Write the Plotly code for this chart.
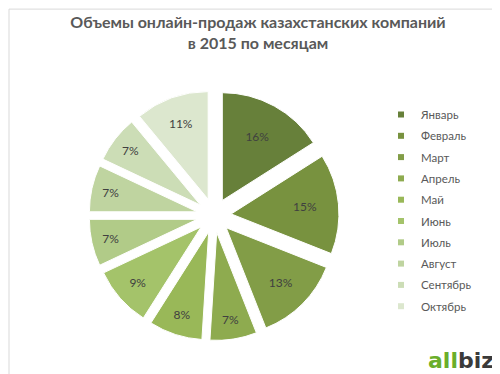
import plotly.graph_objects as go

months = ["Январь", "Февраль", "Март", "Апрель", "Май", "Июнь",
          "Июль", "Август", "Сентябрь", "Октябрь"]
shares = [16, 15, 13, 7, 8, 9, 7, 7, 7, 11]
colors = ["#67803A", "#78923F", "#829D47", "#8EAB4F", "#99B858", "#A4C36A",
          "#B1CB88", "#BFD4A0", "#CCDDB6", "#DCE7CE"]

fig = go.Figure()
fig.add_trace(go.Pie(
    labels=months,
    values=shares,
    sort=False,
    direction="clockwise",
    rotation=0,
    pull=[0.16] * len(months),
    marker=dict(colors=colors, line=dict(color="white", width=1)),
    texttemplate="%{value}%",
    textposition="inside",
    insidetextorientation="horizontal",
    textfont=dict(family="Lato, Open Sans, sans-serif", size=12, color="#404040"),
    domain=dict(x=[0.162, 0.662], y=[0.11, 0.78]),
    hoverinfo="label+percent",
    showlegend=False,
))

# small square legend keys, one per month
for m, c in zip(months, colors):
    fig.add_trace(go.Scatter(
        x=[None], y=[None], mode="markers", name=m, legendgroup=m,
        marker=dict(symbol="square", size=6, color=c),
        showlegend=True, hoverinfo="skip",
    ))

fig.update_layout(
    width=500, height=374,
    margin=dict(l=0, r=0, t=0, b=0),
    paper_bgcolor="white",
    plot_bgcolor="white",
    xaxis=dict(visible=False, domain=[0.9, 0.91]),
    yaxis=dict(visible=False, domain=[0.9, 0.91]),
    title=dict(
        text="<b>Объемы онлайн-продаж казахстанских компаний<br>в 2015 по месяцам</b>",
        x=0.5, xanchor="center", y=0.947, yanchor="middle",
        font=dict(family="Lato, Open Sans, sans-serif", size=16, color="#595959"),
    ),
    legend=dict(
        x=0.746, y=0.754, xanchor="left", yanchor="top",
        font=dict(family="Lato, Open Sans, sans-serif", size=11.5, color="#595959"),
        itemwidth=30, tracegroupgap=2.3, itemsizing="trace",
        bgcolor="rgba(0,0,0,0)",
    ),
    shapes=[dict(type="rect", xref="paper", yref="paper", x0=0.002, y0=0.003,
                 x1=0.998, y1=0.997, line=dict(color="#D9D9D9", width=1))],
    annotations=[dict(
        text="<b><span style='color:#6AAE2A'>all</span><span style='color:#3A3A3A'>biz</span></b>",
        x=0.975, y=0.02, xref="paper", yref="paper", xanchor="right", yanchor="bottom",
        showarrow=False,
        font=dict(family="DejaVu Sans, sans-serif", size=22),
    )],
)

fig.write_html("out.html")
